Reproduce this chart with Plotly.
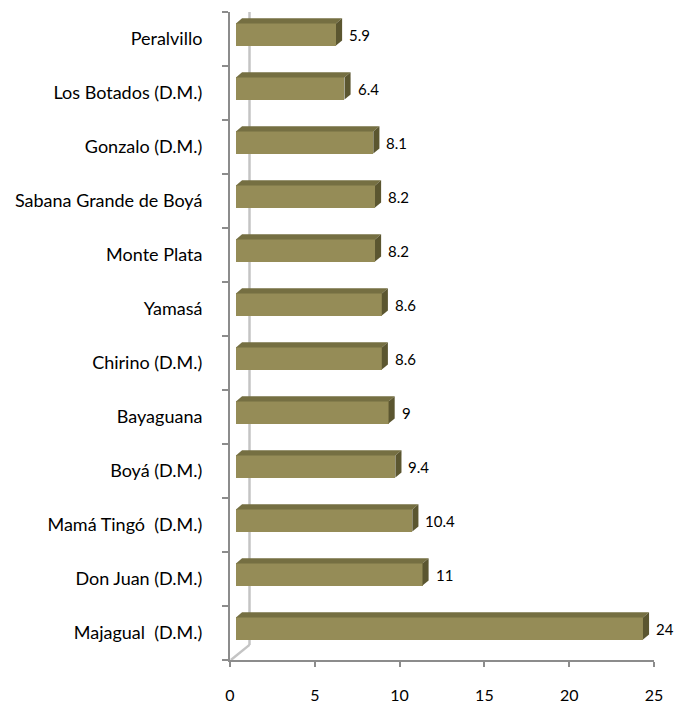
import plotly.graph_objects as go

# ---- data (bottom to top) ----
categories = ["Majagual  (D.M.)", "Don Juan (D.M.)", "Mamá Tingó  (D.M.)", "Boyá (D.M.)",
              "Bayaguana", "Chirino (D.M.)", "Yamasá", "Monte Plata",
              "Sabana Grande de Boyá", "Gonzalo (D.M.)", "Los Botados (D.M.)", "Peralvillo"]
values = [24, 11, 10.4, 9.4, 9, 8.6, 8.6, 8.2, 8.2, 8.1, 6.4, 5.9]
value_labels = ["24", "11", "10.4", "9.4", "9", "8.6", "8.6", "8.2", "8.2", "8.1", "6.4", "5.9"]
x_ticks = [0, 5, 10, 15, 20, 25]

# ---- pseudo-3D geometry (in axis units) ----
X_OFF = 0.35      # front face starts slightly right of the axis
DX = 0.36         # depth offset, horizontal
DY = 0.095        # depth offset, vertical (category units)
Y_OFF = 0.083     # front face raised a bit
BAR_H = 0.41
WALL_DX = 1.15
WALL_DY = 0.28

FRONT = "#958C57"
TOP = "#756F42"
SIDE = "#5B5630"
AXIS = "#8C8C8C"
WALL = "#C4C4C4"
FONT = "Lato"

idx = list(range(len(categories)))
ypos = [i + Y_OFF for i in idx]

fig = go.Figure()
fig.add_trace(go.Bar(
    x=values, y=ypos, base=[X_OFF] * len(values), orientation="h", width=BAR_H,
    marker=dict(color=FRONT, line=dict(width=0)), hoverinfo="skip", showlegend=False,
))

shapes = []
# back wall + floor edge
shapes.append(dict(type="line", xref="x", yref="y", x0=WALL_DX, x1=WALL_DX,
                   y0=-0.5 + WALL_DY, y1=11.55, line=dict(color=WALL, width=2.5), layer="below"))
shapes.append(dict(type="line", xref="x", yref="y", x0=0.05, x1=WALL_DX,
                   y0=-0.5, y1=-0.5 + WALL_DY, line=dict(color=WALL, width=2.5), layer="below"))

annotations = []
for v, y, lab in zip(values, ypos, value_labels):
    x0 = X_OFF
    x1 = X_OFF + v
    yt = y + BAR_H / 2
    yb = y - BAR_H / 2
    top_path = f"M {x0},{yt} L {x1},{yt} L {x1 + DX},{yt + DY} L {x0 + DX},{yt + DY} Z"
    side_path = f"M {x1},{yb} L {x1},{yt} L {x1 + DX},{yt + DY} L {x1 + DX},{yb + DY} Z"
    shapes.append(dict(type="path", xref="x", yref="y", path=top_path,
                       fillcolor=TOP, line=dict(width=0), layer="above"))
    shapes.append(dict(type="path", xref="x", yref="y", path=side_path,
                       fillcolor=SIDE, line=dict(width=0), layer="above"))
    annotations.append(dict(x=x1 + DX, y=y, xref="x", yref="y", text=lab, showarrow=False,
                            xanchor="left", yanchor="middle", xshift=5,
                            font=dict(family=FONT, size=15, color="#000000")))

fig.update_layout(
    width=674, height=704,
    margin=dict(l=230, r=20, t=12, b=44, autoexpand=False),
    paper_bgcolor="white", plot_bgcolor="white",
    shapes=shapes, annotations=annotations,
    bargap=0,
    xaxis=dict(range=[0, 25], tickvals=x_ticks, ticktext=[str(t) for t in x_ticks],
               automargin=False,
               showgrid=False, zeroline=False, showline=True, linecolor=AXIS, linewidth=1.5,
               ticks="outside", ticklen=5, tickcolor=AXIS, tickwidth=1.5,
               ticklabelstandoff=15,
               tickfont=dict(family=FONT, size=16, color="#000000")),
    yaxis=dict(range=[-0.5, 11.5], tickvals=idx, ticktext=categories,
               automargin=False,
               showgrid=False, zeroline=False, showline=True, linecolor=AXIS, linewidth=2,
               ticks="", ticklabelstandoff=22,
               minor=dict(tickvals=[i - 0.5 for i in range(13)], ticks="outside",
                          ticklen=6, tickcolor=AXIS, tickwidth=1.5),
               tickfont=dict(family=FONT, size=18, color="#000000")),
    font=dict(family=FONT),
)

# remove the default page margin so the figure fills the window exactly
fig.write_html("out.html", config={"displayModeBar": False},
               post_script="document.body.style.margin='0';document.body.style.overflow='hidden';")
